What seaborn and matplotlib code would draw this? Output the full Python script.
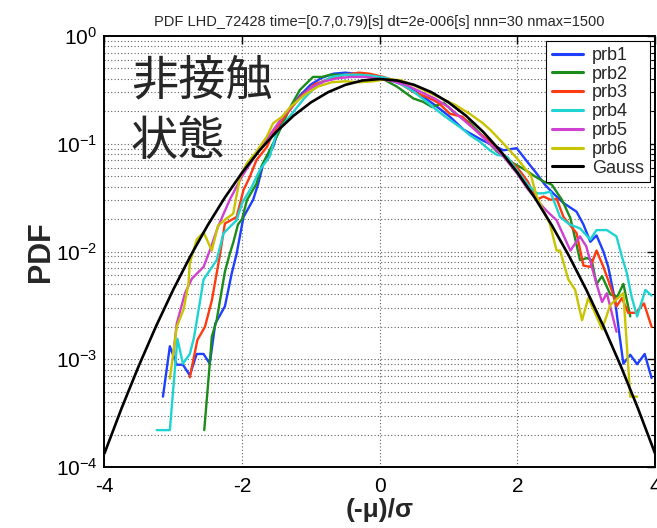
import numpy as np
import pandas as pd
import seaborn as sns
import matplotlib
matplotlib.use("Agg")
import matplotlib.pyplot as plt
from matplotlib.lines import Line2D
from matplotlib.ticker import LogLocator, FixedLocator, NullFormatter

# ---------------- data: normalised fluctuation PDFs per probe ----------------
prb1_x = [-3.15, -3.05, -2.95, -2.86, -2.76, -2.66, -2.56, -2.47, -2.39, -2.25, -2.15, -2.08,
          -1.98, -1.84, -1.77, -1.69, -1.55, -1.47, -1.35, -1.16, -1.00, -0.85, -0.67, -0.50,
          -0.35, -0.20, 0.00, 0.20, 0.40, 0.60, 0.80, 1.02, 1.22, 1.50, 1.80, 1.99, 2.16, 2.26,
          2.40, 2.52, 2.67, 2.86, 2.96, 3.06, 3.15, 3.25, 3.32, 3.42, 3.48, 3.54, 3.64, 3.74,
          3.85, 3.95]
prb1_y = [4.5e-4, 1.32e-3, 8.9e-4, 8.9e-4, 7.1e-4, 1.12e-3, 1.12e-3, 9.1e-4, 2.14e-3, 3.1e-3,
          6.3e-3, 9.5e-3, 0.0209, 0.0302, 0.0417, 0.066, 0.093, 0.135, 0.19, 0.28, 0.355, 0.407,
          0.447, 0.457, 0.447, 0.427, 0.407, 0.38, 0.339, 0.282, 0.229, 0.178, 0.135, 0.107,
          0.087, 0.091, 0.066, 0.055, 0.0417, 0.0347, 0.0282, 0.0234, 0.0178, 0.0123, 0.0141,
          0.0100, 0.0072, 0.0035, 0.00174, 9.1e-4, 1.1e-3, 9.0e-4, 1.12e-3, 6.7e-4]

prb2_x = [-2.55, -2.47, -2.44, -2.37, -2.25, -2.18, -2.13, -2.06, -2.00, -1.93, -1.79, -1.72,
          -1.60, -1.47, -1.30, -1.16, -0.97, -0.84, -0.72, -0.55, -0.35, -0.15, 0.05, 0.25,
          0.49, 0.63, 0.76, 0.93, 1.10, 1.30, 1.50, 1.70, 1.90, 2.10, 2.25, 2.38, 2.50, 2.65,
          2.77, 2.86, 2.91, 3.01, 3.08, 3.15, 3.23, 3.35, 3.45, 3.54, 3.64]
prb2_y = [2.2e-4, 9.1e-4, 1.62e-3, 2.3e-3, 6.5e-3, 9.5e-3, 0.012, 0.0178, 0.020, 0.030,
          0.0427, 0.0617, 0.087, 0.126, 0.219, 0.316, 0.417, 0.417, 0.437, 0.437, 0.427,
          0.417, 0.398, 0.339, 0.263, 0.245, 0.219, 0.240, 0.190, 0.158, 0.117, 0.085, 0.068,
          0.058, 0.050, 0.0447, 0.0417, 0.030, 0.0204, 0.0115, 0.0083, 0.0087, 0.0083,
          0.0050, 0.0059, 0.0040, 0.0038, 0.0050, 0.0025]

prb3_x = [-2.76, -2.65, -2.54, -2.44, -2.32, -2.25, -2.08, -1.98, -1.89, -1.79, -1.64, -1.55,
          -1.35, -1.15, -0.95, -0.75, -0.50, -0.30, -0.15, 0.05, 0.25, 0.49, 0.70, 0.85, 1.02,
          1.20, 1.40, 1.60, 1.80, 2.00, 2.15, 2.28, 2.38, 2.48, 2.57, 2.67, 2.86, 2.96, 3.06,
          3.15, 3.25, 3.37, 3.44, 3.52, 3.61, 3.72, 3.84, 3.95]
prb3_y = [6.8e-4, 1.51e-3, 2.0e-3, 3.5e-3, 9.5e-3, 0.0182, 0.0209, 0.0372, 0.049, 0.0708,
          0.0933, 0.126, 0.19, 0.275, 0.355, 0.398, 0.437, 0.457, 0.447, 0.417, 0.380, 0.302,
          0.269, 0.240, 0.190, 0.178, 0.132, 0.105, 0.079, 0.060, 0.0447, 0.0302, 0.0324,
          0.0302, 0.0309, 0.0209, 0.0148, 0.0074, 0.0072, 0.0102, 0.0072, 0.0044, 0.0031,
          0.0037, 0.0027, 0.0027, 0.0033, 0.0020]

prb4_x = [-3.24, -3.05, -2.94, -2.86, -2.76, -2.70, -2.61, -2.56, -2.37, -2.27, -2.08, -2.00,
          -1.86, -1.74, -1.60, -1.50, -1.30, -1.10, -0.90, -0.70, -0.50, -0.30, -0.10, 0.10,
          0.30, 0.50, 0.70, 0.85, 1.02, 1.20, 1.31, 1.45, 1.60, 1.70, 1.85, 2.00, 2.15, 2.28,
          2.38, 2.48, 2.62, 2.76, 2.91, 3.06, 3.15, 3.30, 3.44, 3.52, 3.59, 3.66, 3.74, 3.86,
          3.95]
prb4_y = [2.2e-4, 2.2e-4, 1.55e-3, 9.1e-4, 1.12e-3, 1.58e-3, 3.5e-3, 5.5e-3, 8.3e-3, 0.0148,
          0.0195, 0.0282, 0.0398, 0.0575, 0.0759, 0.126, 0.182, 0.263, 0.355, 0.417, 0.437,
          0.437, 0.427, 0.407, 0.363, 0.302, 0.240, 0.200, 0.166, 0.138, 0.120, 0.105, 0.087,
          0.079, 0.076, 0.056, 0.0417, 0.0347, 0.0347, 0.0359, 0.0209, 0.0178, 0.0164, 0.0129,
          0.0158, 0.0158, 0.0138, 0.0089, 0.0063, 0.0038, 0.0025, 0.0044, 0.0039]

prb5_x = [-3.00, -2.95, -2.83, -2.73, -2.56, -2.47, -2.35, -2.18, -2.00, -1.80, -1.60, -1.40,
          -1.20, -1.00, -0.80, -0.60, -0.40, -0.20, 0.00, 0.20, 0.40, 0.60, 0.80, 1.00, 1.20,
          1.40, 1.60, 1.80, 2.00, 2.15, 2.28, 2.42, 2.57, 2.77, 2.91, 3.00, 3.15, 3.23, 3.30,
          3.44]
prb5_y = [1.1e-3, 2.14e-3, 4.1e-3, 5.6e-3, 7.2e-3, 0.0102, 0.0170, 0.0302, 0.050, 0.079,
          0.120, 0.182, 0.251, 0.331, 0.380, 0.407, 0.417, 0.417, 0.398, 0.380, 0.347, 0.302,
          0.263, 0.219, 0.170, 0.132, 0.100, 0.0759, 0.0525, 0.0380, 0.0302, 0.0240, 0.0195,
          0.0102, 0.0138, 0.0112, 0.0050, 0.0034, 0.0041, 0.0018]

prb6_x = [-3.05, -2.95, -2.85, -2.78, -2.76, -2.66, -2.56, -2.44, -2.35, -2.22, -2.13, -2.03,
          -1.93, -1.81, -1.64, -1.55, -1.42, -1.30, -1.10, -0.90, -0.70, -0.50, -0.30, -0.10,
          0.10, 0.30, 0.50, 0.70, 0.90, 1.10, 1.30, 1.50, 1.62, 1.80, 2.00, 2.20, 2.28, 2.47,
          2.57, 2.62, 2.74, 2.84, 2.94, 3.03, 3.15, 3.23, 3.35, 3.54, 3.64, 3.74]
prb6_y = [6.6e-4, 2.0e-3, 2.9e-3, 5.0e-3, 7.8e-3, 0.0129, 0.0151, 0.0102, 0.0174, 0.0204,
          0.0224, 0.049, 0.066, 0.0813, 0.117, 0.155, 0.178, 0.219, 0.282, 0.339, 0.372,
          0.380, 0.372, 0.380, 0.398, 0.389, 0.347, 0.302, 0.263, 0.229, 0.191, 0.155, 0.132,
          0.100, 0.0724, 0.0501, 0.0324, 0.0182, 0.0102, 0.0102, 0.0055, 0.0044, 0.0023,
          0.0037, 0.0025, 0.0019, 0.0032, 0.0041, 4.5e-4, 4.5e-4]

# standard normal density tabulated on a 0.25 grid (reference curve)
gauss_x = [-4.0, -3.75, -3.5, -3.25, -3.0, -2.75, -2.5, -2.25, -2.0, -1.75, -1.5, -1.25,
           -1.0, -0.75, -0.5, -0.25, 0.0, 0.25, 0.5, 0.75, 1.0, 1.25, 1.5, 1.75, 2.0, 2.25,
           2.5, 2.75, 3.0, 3.25, 3.5, 3.75, 4.0]
gauss_y = [1.338e-4, 3.526e-4, 8.727e-4, 2.029e-3, 4.432e-3, 9.094e-3, 0.01753, 0.03174,
           0.05399, 0.08628, 0.1295, 0.1826, 0.2420, 0.3011, 0.3521, 0.3867, 0.3989, 0.3867,
           0.3521, 0.3011, 0.2420, 0.1826, 0.1295, 0.08628, 0.05399, 0.03174, 0.01753,
           0.009094, 0.004432, 0.002029, 8.727e-4, 3.526e-4, 1.338e-4]

probe_names = ["prb1", "prb2", "prb3", "prb4", "prb5", "prb6"]
probe_x = [prb1_x, prb2_x, prb3_x, prb4_x, prb5_x, prb6_x]
probe_y = [prb1_y, prb2_y, prb3_y, prb4_y, prb5_y, prb6_y]
colors = ["#1f3fff", "#1a8c1a", "#ff3a10", "#1fd3d3", "#d040d0", "#c8c400"]

x_ticks = [-4, -2, 0, 2, 4]
title = "PDF LHD_72428 time=[0.7,0.79)[s] dt=2e-006[s] nnn=30 nmax=1500"

df = pd.concat(
    [pd.DataFrame({"x": xs, "pdf": ys, "probe": name})
     for name, xs, ys in zip(probe_names, probe_x, probe_y)],
    ignore_index=True)
gauss_df = pd.DataFrame({"x": gauss_x, "pdf": gauss_y})

# ---------------- figure ----------------
sns.set_theme(style="white")
plt.rcParams["font.family"] = ["Liberation Sans", "DejaVu Sans"]
plt.rcParams["mathtext.fontset"] = "custom"
plt.rcParams["mathtext.rm"] = "Liberation Sans"
plt.rcParams["mathtext.it"] = "Liberation Sans:italic"
plt.rcParams["mathtext.bf"] = "Liberation Sans:bold"
plt.rcParams["axes.unicode_minus"] = False

fig = plt.figure(figsize=(6.57, 5.28), dpi=100)
ax = fig.add_axes([0.159, 0.1155, 0.838, 0.8163])

sns.lineplot(data=df, x="x", y="pdf", hue="probe", hue_order=probe_names,
             palette=colors, estimator=None, sort=False, lw=1.7, ax=ax, legend=False)
sns.lineplot(data=gauss_df, x="x", y="pdf", color="black", estimator=None,
             sort=False, lw=1.9, ax=ax, legend=False)

ax.set_yscale("log")
ax.set_xlim(-4, 4)
ax.set_ylim(1e-4, 1)
ax.xaxis.set_major_locator(FixedLocator(x_ticks))
ax.yaxis.set_major_locator(LogLocator(base=10, numticks=10))
ax.yaxis.set_minor_locator(LogLocator(base=10, subs=np.arange(2, 10), numticks=10))
ax.yaxis.set_minor_formatter(NullFormatter())

grid_kw = dict(color="#606060", linestyle=(0, (1, 2)), linewidth=0.8)
ax.grid(True, which="major", axis="both", **grid_kw)
ax.grid(True, which="minor", axis="y", **grid_kw)

for s in ax.spines.values():
    s.set_color("black")
    s.set_linewidth(1.4)
ax.tick_params(which="both", direction="in", top=True, right=True, colors="black",
               labelsize=15)
ax.tick_params(which="major", length=6, width=1.0)
ax.tick_params(which="minor", length=3, width=0.8)
ax.tick_params(axis="x", pad=7)
ax.tick_params(axis="y", pad=5)

ax.set_xlabel("(-μ)/σ", fontsize=19, fontweight="bold")
ax.set_ylabel("PDF", fontsize=22, fontweight="bold")
ax.xaxis.label.set_va("center")
ax.yaxis.label.set_va("center")
ax.xaxis.set_label_coords(0.5, -0.10)
ax.yaxis.set_label_coords(-0.115, 0.5)

ax.set_title(title, fontsize=10.5, pad=7)

ax.text(0.048, 0.895, "非接触", transform=ax.transAxes, fontsize=34,
        family=["Noto Sans CJK JP", "DejaVu Sans"], ha="left", va="center")
ax.text(0.048, 0.755, "状態", transform=ax.transAxes, fontsize=34,
        family=["Noto Sans CJK JP", "DejaVu Sans"], ha="left", va="center")

handles = [Line2D([], [], color=c, lw=2.2) for c in colors]
handles.append(Line2D([], [], color="black", lw=2.2))
leg = ax.legend(handles, probe_names + ["Gauss"], loc="upper right", fontsize=13,
                frameon=True, fancybox=False, framealpha=1, edgecolor="black",
                borderaxespad=0.3, labelspacing=0.1, handlelength=1.75,
                handletextpad=0.5, borderpad=0.3)
leg.get_frame().set_linewidth(0.8)

fig.savefig("out.png", dpi=100)
